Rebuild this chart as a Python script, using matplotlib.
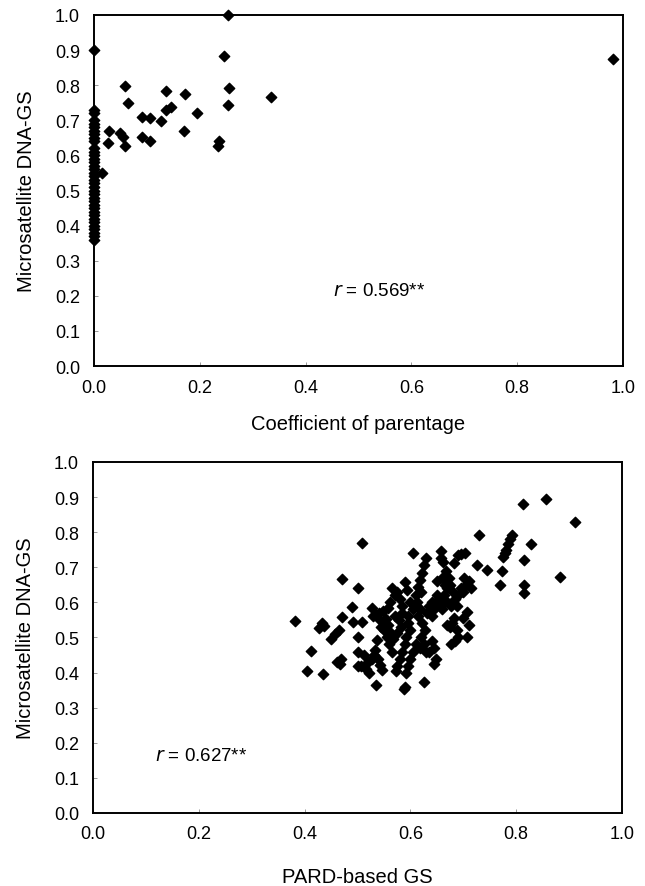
import matplotlib
matplotlib.use("Agg")
import matplotlib.pyplot as plt

plt.rcParams['font.family'] = ['Liberation Sans', 'DejaVu Sans']

# top panel: coefficient of parentage vs microsatellite GS
cop_zero_y = [0.36, 0.37, 0.38, 0.39, 0.40, 0.41, 0.42, 0.43, 0.44, 0.45,
              0.46, 0.47, 0.48, 0.49, 0.50, 0.51, 0.52, 0.53, 0.54, 0.55,
              0.56, 0.57, 0.58, 0.59, 0.60, 0.61, 0.62, 0.64, 0.65, 0.66,
              0.67, 0.68, 0.69, 0.70, 0.72, 0.73, 0.90]
cop_x = [0.253, 0.245, 0.059, 0.065, 0.028, 0.026, 0.049, 0.054, 0.059,
         0.090, 0.106, 0.127, 0.090, 0.105, 0.136, 0.136, 0.145, 0.172,
         0.170, 0.194, 0.237, 0.234, 0.255, 0.253, 0.334, 0.016, 0.982]
cop_y = [1.000, 0.884, 0.797, 0.748, 0.670, 0.635, 0.663, 0.651, 0.626,
         0.710, 0.707, 0.699, 0.653, 0.640, 0.784, 0.729, 0.737, 0.775,
         0.670, 0.720, 0.642, 0.626, 0.793, 0.744, 0.767, 0.550, 0.875]

# bottom panel: PARD-based GS vs microsatellite GS
pard_x = [0.381, 0.412, 0.405, 0.434, 0.428, 0.432, 0.436, 0.449, 0.457, 0.465,
          0.461, 0.469, 0.466, 0.470, 0.470, 0.490, 0.500, 0.501, 0.492, 0.508,
          0.500, 0.512, 0.507, 0.516, 0.520, 0.527, 0.522, 0.508, 0.527, 0.535,
          0.543, 0.551, 0.530, 0.540, 0.537, 0.533, 0.539, 0.543, 0.547, 0.535,
          0.532, 0.558, 0.562, 0.554, 0.550, 0.548, 0.566, 0.570, 0.562, 0.558,
          0.575, 0.570, 0.578, 0.582, 0.575, 0.568, 0.575, 0.580, 0.585, 0.590,
          0.572, 0.590, 0.593, 0.587, 0.590, 0.596, 0.600, 0.592, 0.596, 0.605,
          0.600, 0.605, 0.610, 0.612, 0.618, 0.614, 0.625, 0.620, 0.625, 0.630,
          0.618, 0.622, 0.628, 0.630, 0.626, 0.622, 0.618, 0.615, 0.620, 0.636,
          0.644, 0.648, 0.645, 0.640, 0.640, 0.648, 0.655, 0.660, 0.664, 0.650,
          0.645, 0.635, 0.632, 0.640, 0.657, 0.661, 0.657, 0.668, 0.672, 0.675,
          0.680, 0.684, 0.676, 0.688, 0.670, 0.678, 0.674, 0.670, 0.682, 0.688,
          0.676, 0.684, 0.690, 0.683, 0.689, 0.695, 0.703, 0.702, 0.710, 0.715,
          0.705, 0.707, 0.710, 0.707, 0.700, 0.730, 0.726, 0.745, 0.773, 0.769,
          0.775, 0.780, 0.784, 0.788, 0.792, 0.778, 0.813, 0.857, 0.911, 0.827,
          0.815, 0.815, 0.815, 0.882, 0.555, 0.560, 0.565, 0.600, 0.605, 0.610,
          0.595, 0.592, 0.650, 0.660, 0.665, 0.690, 0.695, 0.700, 0.660, 0.670,
          0.500, 0.545, 0.585, 0.585, 0.580]
pard_y = [0.547, 0.462, 0.405, 0.395, 0.526, 0.540, 0.532, 0.497, 0.511, 0.521,
          0.430, 0.440, 0.425, 0.559, 0.667, 0.586, 0.640, 0.502, 0.545, 0.545,
          0.459, 0.450, 0.420, 0.410, 0.430, 0.440, 0.398, 0.770, 0.583, 0.564,
          0.550, 0.540, 0.560, 0.570, 0.492, 0.464, 0.440, 0.421, 0.407, 0.366,
          0.450, 0.535, 0.516, 0.554, 0.520, 0.575, 0.640, 0.621, 0.602, 0.583,
          0.630, 0.560, 0.550, 0.530, 0.512, 0.495, 0.420, 0.440, 0.460, 0.480,
          0.405, 0.659, 0.635, 0.354, 0.360, 0.540, 0.520, 0.500, 0.560, 0.580,
          0.600, 0.742, 0.620, 0.600, 0.580, 0.560, 0.373, 0.500, 0.480, 0.460,
          0.470, 0.540, 0.520, 0.725, 0.705, 0.685, 0.665, 0.645, 0.630, 0.459,
          0.470, 0.440, 0.425, 0.490, 0.600, 0.600, 0.590, 0.610, 0.620, 0.620,
          0.580, 0.590, 0.570, 0.560, 0.745, 0.715, 0.725, 0.690, 0.670, 0.650,
          0.630, 0.610, 0.590, 0.590, 0.640, 0.540, 0.530, 0.535, 0.555, 0.520,
          0.480, 0.490, 0.500, 0.712, 0.735, 0.738, 0.741, 0.670, 0.660, 0.640,
          0.650, 0.573, 0.535, 0.500, 0.555, 0.792, 0.707, 0.693, 0.688, 0.650,
          0.730, 0.748, 0.765, 0.780, 0.792, 0.740, 0.880, 0.893, 0.829, 0.767,
          0.721, 0.650, 0.626, 0.671, 0.500, 0.480, 0.460, 0.440, 0.460, 0.480,
          0.420, 0.400, 0.660, 0.670, 0.650, 0.620, 0.640, 0.630, 0.580, 0.600,
          0.420, 0.530, 0.570, 0.590, 0.610]

ticks = [0.0, 0.2, 0.4, 0.6, 0.8, 1.0]
yticks = [i / 10 for i in range(11)]

fig = plt.figure(figsize=(6.45, 8.87), dpi=100)
ax1 = fig.add_axes([0.1457, 0.5862, 0.8202, 0.3958])
ax2 = fig.add_axes([0.1442, 0.0823, 0.8202, 0.3958])


def style(ax, xlabel, xlab_y):
    ax.set_xlim(0, 1)
    ax.set_ylim(0, 1)
    ax.set_xticks(ticks)
    ax.set_xticklabels([f"{t:.1f}" for t in ticks])
    ax.set_yticks(yticks)
    ax.set_yticklabels([f"{t:.1f}" for t in yticks])
    ax.tick_params(direction='in', length=3, width=0.6, color='#888888',
                   labelsize=13, pad=10)
    ax.tick_params(axis='x', pad=9)
    for s in ax.spines.values():
        s.set_linewidth(1.4)
        s.set_color('black')
    ax.set_xlabel(xlabel, fontsize=14.5, va='center')
    ax.xaxis.set_label_coords(0.5, xlab_y)
    ax.set_ylabel("Microsatellite DNA-GS", fontsize=14.5, va='center')
    ax.yaxis.set_label_coords(-0.127, 0.5)


ax1.scatter([0.0] * len(cop_zero_y), cop_zero_y, marker='D', s=28,
            color='black', zorder=3, clip_on=False)
ax1.scatter(cop_x, cop_y, marker='D', s=28, color='black', zorder=3,
            clip_on=False)
style(ax1, "Coefficient of parentage", -0.165)
ax1.text(0.452, 0.215, r"$\it{r}$ = 0.569**", fontsize=13.5, va='center')

ax2.scatter(pard_x, pard_y, marker='D', s=28, color='black', zorder=3,
            clip_on=False)
style(ax2, "PARD-based GS", -0.18)
ax2.text(0.118, 0.165, r"$\it{r}$ = 0.627**", fontsize=13.5, va='center')

fig.savefig("out.png", dpi=100)
